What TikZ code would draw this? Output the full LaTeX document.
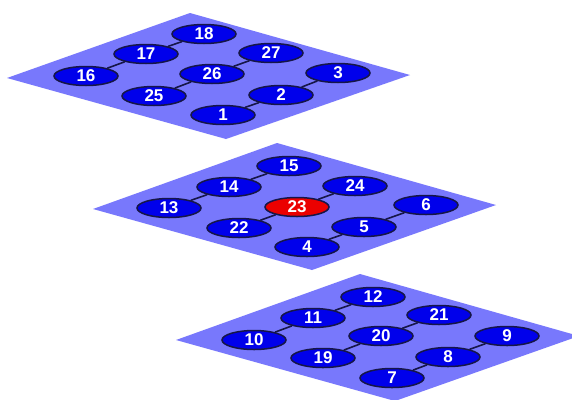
\documentclass[tikz,border=0pt]{standalone}
\usepackage{fontspec}
\setmainfont{Liberation Sans}
\usetikzlibrary{shapes.geometric}
\definecolor{planec}{RGB}{120,120,252}
\definecolor{nodec}{RGB}{0,0,235}
\definecolor{edgec}{RGB}{22,22,72}
\definecolor{redc}{RGB}{235,0,0}
\tikzset{
  plane/.style={fill=planec,draw=none},
  nd/.style={ellipse,draw=edgec,line width=1.5pt,fill=nodec,minimum width=64pt,minimum height=19pt,inner sep=0pt,text=white,font=\fontsize{17}{17}\selectfont\bfseries},
  hot/.style={nd,fill=redc},
  link/.style={draw=edgec,line width=1.6pt}
}
\begin{document}
\begin{tikzpicture}[x=1pt,y=-1pt]
\useasboundingbox (0,0) rectangle (572,399);
\fill[white] (0,0) rectangle (572,399);
% planes
\begin{scope}
\clip (0,0) rectangle (572,399);
\fill[plane] (190,13) -- ++(220,62) -- ++(-184,64) -- ++(-219,-61) -- cycle;
\fill[plane] (277,143) -- ++(219,62) -- ++(-184,65) -- ++(-219,-61) -- cycle;
\fill[plane] (360,274) -- ++(219,62) -- ++(-184,65) -- ++(-219,-61) -- cycle;
\end{scope}
% plane 1
\node[nd] (n16) at (86,76) {16};
\node[nd] (n17) at (146,54) {17};
\node[nd] (n18) at (204,34) {18};
\node[nd] (n25) at (154,96) {25};
\node[nd] (n26) at (212,74) {26};
\node[nd] (n27) at (271,53) {27};
\node[nd] (n1) at (223,115) {1};
\node[nd] (n2) at (281,95) {2};
\node[nd] (n3) at (338,73) {3};
% plane 2
\node[nd] (n13) at (169,208) {13};
\node[nd] (n14) at (229,187) {14};
\node[nd] (n15) at (289,166) {15};
\node[nd] (n22) at (239,228) {22};
\node[hot] (n23) at (297,207) {23};
\node[nd] (n24) at (355,186) {24};
\node[nd] (n4) at (307,247) {4};
\node[nd] (n5) at (364,227) {5};
\node[nd] (n6) at (426,205) {6};
% plane 3
\node[nd] (n10) at (254,340) {10};
\node[nd] (n11) at (313,318) {11};
\node[nd] (n12) at (373,297) {12};
\node[nd] (n19) at (323,358) {19};
\node[nd] (n20) at (381,336) {20};
\node[nd] (n21) at (439,315) {21};
\node[nd] (n7) at (392,378) {7};
\node[nd] (n8) at (448,357) {8};
\node[nd] (n9) at (507,336) {9};
% links
\draw[link] (n16) -- (n17) -- (n18);
\draw[link] (n25) -- (n26) -- (n27);
\draw[link] (n1) -- (n2) -- (n3);
\draw[link] (n13) -- (n14) -- (n15);
\draw[link] (n22) -- (n23) -- (n24);
\draw[link] (n4) -- (n5) -- (n6);
\draw[link] (n10) -- (n11) -- (n12);
\draw[link] (n19) -- (n20) -- (n21);
\draw[link] (n7) -- (n8) -- (n9);
\end{tikzpicture}
\end{document}
